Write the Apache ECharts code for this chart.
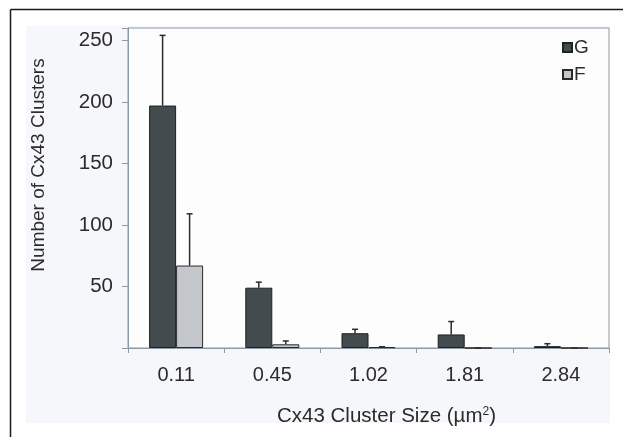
<!DOCTYPE html>
<html>
<head>
<meta charset="utf-8">
<script src="https://cdn.jsdelivr.net/npm/echarts@6/dist/echarts.min.js"></script>
<style>
  html, body { margin: 0; padding: 0; background: #ffffff; }
  #chart { width: 623px; height: 437px; }
</style>
</head>
<body>
<div id="chart"></div>
<script>
// ---- data ----
const categories = ['0.11', '0.45', '1.02', '1.81', '2.84'];
const seriesNames = ['G', 'F'];
const gValues = [197, 49, 12, 11, 1.5];
const gErrors = [57, 4.5, 3.2, 10.5, 2];
const fValues = [67, 3, 0.7, 0, 0];
const fErrors = [42, 2.7, 0.3, 0, 0];
const yTicks = [0, 50, 100, 150, 200, 250];
const yMax = 260;

const axisColor = '#8c9aa6';
const textColor = '#2b2b2b';
const gColor = '#424b4d';
const fColor = '#c4c7cc';
const barWidth = 27;
const font = 'Liberation Sans, Arial, sans-serif';

function errorSeries(name, values, errors, offset) {
  return {
    type: 'custom',
    name: name + ' error',
    z: 5,
    silent: true,
    data: values.map((v, i) => [i, v, errors[i]]),
    renderItem: function (params, api) {
      const idx = api.value(0);
      const v = api.value(1);
      const e = api.value(2);
      const base = api.coord([idx, v]);
      const top = api.coord([idx, v + e]);
      const x = base[0] + offset;
      const style = { stroke: '#2b2b2b', lineWidth: 1.5 };
      return {
        type: 'group',
        children: [
          { type: 'line', shape: { x1: x, y1: base[1], x2: x, y2: top[1] }, style: style },
          { type: 'line', shape: { x1: x - 3, y1: top[1], x2: x + 3, y2: top[1] }, style: style }
        ]
      };
    }
  };
}

const chart = echarts.init(document.getElementById('chart'), null, { renderer: 'canvas' });
chart.setOption({
  animation: false,
  backgroundColor: '#ffffff',
  textStyle: { fontFamily: font, color: textColor },
  graphic: [
    { type: 'rect', z: -10, shape: { x: 26, y: 26, width: 584, height: 397 }, style: { fill: '#f6f7fa' } },
    { type: 'line', z: 10, shape: { x1: 10.5, y1: 9.5, x2: 623, y2: 9.5 }, style: { stroke: '#1a1a1a', lineWidth: 1.5 } },
    { type: 'line', z: 10, shape: { x1: 10.5, y1: 9.5, x2: 10.5, y2: 437 }, style: { stroke: '#1a1a1a', lineWidth: 1.5 } }
  ],
  grid: {
    left: 128, right: 14, top: 28, bottom: 89,
    show: true, backgroundColor: '#fdfdfe', borderColor: axisColor, borderWidth: 1
  },
  legend: {
    data: seriesNames,
    orient: 'vertical',
    left: 562, top: 38,
    padding: 0,
    itemWidth: 9, itemHeight: 9, itemGap: 8,
    icon: 'rect',
    textStyle: { fontSize: 19, color: textColor, padding: [0, 0, 0, -3] }
  },
  xAxis: {
    type: 'category',
    data: categories,
    boundaryGap: true,
    axisLine: { lineStyle: { color: axisColor, width: 1 } },
    axisTick: { show: true, length: 5, lineStyle: { color: axisColor } },
    axisLabel: { fontSize: 20, color: textColor, margin: 17 },
    name: '{a|Cx43 Cluster Size (µm}{s|2}{a|)}',
    nameLocation: 'middle',
    nameGap: 58,
    nameTextStyle: {
      padding: [0, 0, 0, 36],
      rich: {
        a: { fontSize: 20.5, color: textColor, fontFamily: font },
        s: { fontSize: 12, color: textColor, verticalAlign: 'top', fontFamily: font }
      }
    }
  },
  yAxis: {
    type: 'value',
    min: 0, max: yMax, interval: 50,
    splitLine: { show: false },
    axisLine: { show: true, lineStyle: { color: axisColor, width: 1 } },
    axisTick: { show: true, length: 6, lineStyle: { color: axisColor } },
    axisLabel: {
      fontSize: 20.5, color: textColor, margin: 15,
      formatter: function (v) { return (yTicks.indexOf(v) > 0) ? String(v) : ''; }
    },
    name: 'Number of Cx43 Clusters',
    nameLocation: 'middle',
    nameGap: 80,
    nameTextStyle: { fontSize: 19, color: textColor, padding: [0, 0, 0, 46] }
  },
  series: [
    {
      name: 'G', type: 'bar', data: gValues, barWidth: barWidth, barGap: '0%',
      itemStyle: { color: gColor, borderColor: '#1e2222', borderWidth: 1 }
    },
    {
      name: 'F', type: 'bar', data: fValues, barWidth: barWidth, barGap: '0%',
      itemStyle: { color: fColor, borderColor: '#2a2a2a', borderWidth: 1 }
    },
    errorSeries('G', gValues, gErrors, -barWidth / 2),
    errorSeries('F', fValues, fErrors, barWidth / 2)
  ]
});
</script>
</body>
</html>
